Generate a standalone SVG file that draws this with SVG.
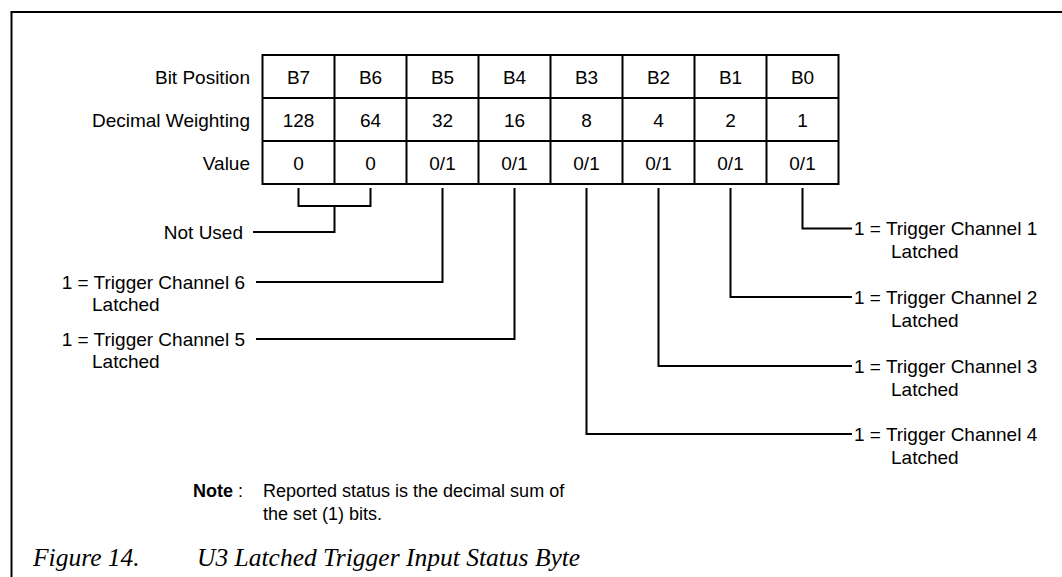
<svg xmlns="http://www.w3.org/2000/svg" width="1062" height="577" viewBox="0 0 1062 577">
<style>
.t{font-family:"Liberation Sans",Arial,sans-serif;font-size:19px;fill:#000}
.n{font-family:"Liberation Sans",Arial,sans-serif;font-size:18px;fill:#000}
.c{text-anchor:middle}
.e{text-anchor:end}
.b{font-weight:bold}
.cap{font-family:"Liberation Serif","Times New Roman",serif;font-style:italic;font-size:25.5px;fill:#000}
.ln{fill:none;stroke:#000;stroke-width:2}
.grid{fill:none;stroke:#000;stroke-width:2}
</style>
<rect width="1062" height="577" fill="#fff"/>
<g id="frame"><path class="ln" d="M1062,12 H11.5 V577" stroke-width="2.5"/></g>
<g id="row-labels">
<text class="t e" x="250" y="84">Bit Position</text>
<text class="t e" x="250" y="127">Decimal Weighting</text>
<text class="t e" x="250" y="170">Value</text>
</g>
<g id="table">
<rect class="grid" x="262.5" y="55" width="576" height="129"/>
<path class="grid" d="M262.5,98H838.5M262.5,141H838.5M334.5,55V184M406.5,55V184M478.5,55V184M550.5,55V184M622.5,55V184M694.5,55V184M766.5,55V184"/>
<text class="t c" x="298.5" y="84">B7</text><text class="t c" x="370.5" y="84">B6</text><text class="t c" x="442.5" y="84">B5</text><text class="t c" x="514.5" y="84">B4</text><text class="t c" x="586.5" y="84">B3</text><text class="t c" x="658.5" y="84">B2</text><text class="t c" x="730.5" y="84">B1</text><text class="t c" x="802.5" y="84">B0</text>
<text class="t c" x="298.5" y="127">128</text><text class="t c" x="370.5" y="127">64</text><text class="t c" x="442.5" y="127">32</text><text class="t c" x="514.5" y="127">16</text><text class="t c" x="586.5" y="127">8</text><text class="t c" x="658.5" y="127">4</text><text class="t c" x="730.5" y="127">2</text><text class="t c" x="802.5" y="127">1</text>
<text class="t c" x="298.5" y="170">0</text><text class="t c" x="370.5" y="170">0</text><text class="t c" x="442.5" y="170">0/1</text><text class="t c" x="514.5" y="170">0/1</text><text class="t c" x="586.5" y="170">0/1</text><text class="t c" x="658.5" y="170">0/1</text><text class="t c" x="730.5" y="170">0/1</text><text class="t c" x="802.5" y="170">0/1</text>
</g>
<g id="connectors">
<path class="ln" d="M298.5,188V206H370.5V188M334.5,206V232H253"/>
<path class="ln" d="M442.5,188V282H256"/>
<path class="ln" d="M514.5,188V339H256"/>
<path class="ln" d="M802.5,188V228.5H852"/>
<path class="ln" d="M730.5,188V297H852"/>
<path class="ln" d="M658.5,188V366H852"/>
<path class="ln" d="M586.5,188V434H852"/>
</g>
<g id="label-not-used"><text class="t e" x="243" y="238.5">Not Used</text></g>
<g id="label-ch6"><text class="t e" x="245" y="288.5">1 = Trigger Channel 6</text><text class="t" x="92" y="311">Latched</text></g>
<g id="label-ch5"><text class="t e" x="245" y="345.5">1 = Trigger Channel 5</text><text class="t" x="92" y="368">Latched</text></g>
<g id="label-ch1"><text class="t" x="854" y="235">1 = Trigger Channel 1</text><text class="t" x="891" y="258">Latched</text></g>
<g id="label-ch2"><text class="t" x="854" y="303.5">1 = Trigger Channel 2</text><text class="t" x="891" y="326.5">Latched</text></g>
<g id="label-ch3"><text class="t" x="854" y="372.5">1 = Trigger Channel 3</text><text class="t" x="891" y="395.5">Latched</text></g>
<g id="label-ch4"><text class="t" x="854" y="440.5">1 = Trigger Channel 4</text><text class="t" x="891" y="463.5">Latched</text></g>
<g id="note">
<text class="n" x="193" y="497"><tspan class="b">Note</tspan> :</text>
<text class="n" x="263" y="497">Reported status is the decimal sum of</text>
<text class="n" x="263" y="520">the set (1) bits.</text>
</g>
<g id="caption">
<text class="cap" x="33" y="566">Figure 14.</text>
<text class="cap" x="197" y="566">U3 Latched Trigger Input Status Byte</text>
</g>
</svg>
